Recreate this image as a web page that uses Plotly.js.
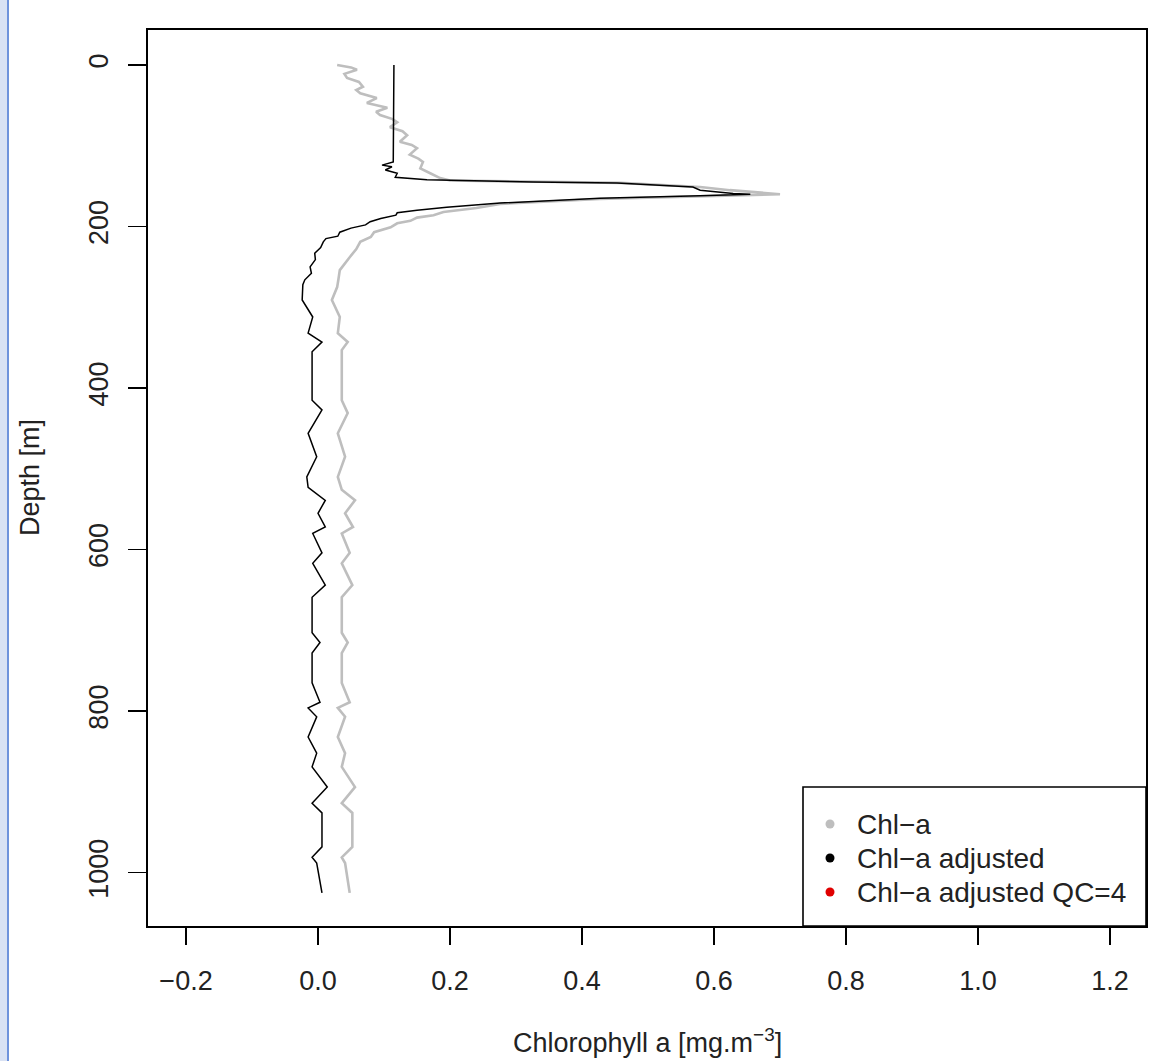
<!DOCTYPE html>
<html>
<head>
<meta charset="utf-8">
<script src="https://cdn.plot.ly/plotly-3.0.1.min.js"></script>
<style>
  html, body { margin: 0; padding: 0; background: #ffffff; }
  #wrap { position: relative; width: 1158px; height: 1061px; }
  #plot { position: absolute; left: 0; top: 0; width: 1158px; height: 1061px; }
  #edge { position: absolute; left: 0; top: 0; width: 7px; height: 1061px; background: #d9e2f4; border-right: 2px solid #6f93dc; z-index: 5; }
</style>
</head>
<body>
<div id="wrap"><div id="plot"></div><div id="edge"></div></div>
<script>
// ---- data ----
const depthRaw = [0, 3, 6, 11, 16, 21, 27, 31, 35, 41, 47, 53, 58, 62, 67, 71, 77, 82, 87, 95, 99, 103, 111, 116, 120, 128, 134, 140,
  143, 146, 151, 155, 160, 162, 166, 172, 177, 182, 186, 189, 193, 196, 201, 207, 213, 219, 228, 238, 246, 254, 265, 275,
  291, 312, 332, 343, 353, 415, 431, 456, 485, 510, 526, 539, 555, 572, 580, 604, 617, 644, 659, 703, 715, 728, 765, 789,
  796, 807, 832, 852, 869, 894, 914, 926, 968, 981, 988, 1025];
const chlRaw = [0.029, 0.050, 0.059, 0.040, 0.044, 0.062, 0.068, 0.058, 0.064, 0.089, 0.074, 0.105, 0.088, 0.094, 0.113, 0.120, 0.109, 0.128, 0.135, 0.124, 0.142, 0.150, 0.139, 0.152, 0.159, 0.155, 0.170, 0.185,
  0.200, 0.458, 0.579, 0.624, 0.700, 0.609, 0.427, 0.276, 0.240, 0.190, 0.175, 0.150, 0.140, 0.120, 0.110, 0.085, 0.080, 0.064, 0.058, 0.048, 0.040, 0.033, 0.031, 0.029,
  0.021, 0.033, 0.030, 0.045, 0.036, 0.036, 0.045, 0.030, 0.041, 0.030, 0.036, 0.056, 0.041, 0.053, 0.036, 0.048, 0.036, 0.052, 0.036, 0.036, 0.045, 0.036, 0.036, 0.048,
  0.030, 0.041, 0.030, 0.041, 0.036, 0.056, 0.036, 0.052, 0.052, 0.036, 0.041, 0.048];

const depthAdj = [0, 120, 124, 126, 130, 134, 139, 140, 142, 145, 146, 151, 155, 159, 160, 162, 165, 171, 176, 180, 183, 186, 190, 194, 198, 202, 207, 212, 215, 219, 226, 233, 241, 250, 258, 266, 272,
  291, 312, 332, 343, 355, 415, 427, 456, 485, 510, 523, 539, 555, 572, 580, 604, 617, 644, 659, 703, 715, 728, 765, 789,
  796, 807, 832, 852, 869, 894, 914, 926, 968, 981, 988, 1025];
const chlAdj = [0.115, 0.114, 0.097, 0.112, 0.102, 0.120, 0.117, 0.139, 0.165, 0.326, 0.453, 0.568, 0.579, 0.629, 0.655, 0.579, 0.427, 0.276, 0.195, 0.150, 0.120, 0.118, 0.095, 0.079, 0.072, 0.050, 0.033, 0.030, 0.012, 0.008, 0.004, -0.005, -0.004, -0.012, -0.010, -0.020, -0.023,
  -0.024, -0.008, -0.015, 0.006, -0.009, -0.009, 0.006, -0.015, -0.002, -0.017, -0.015, 0.011, 0.000, 0.011, -0.008, 0.006, -0.008, 0.011, -0.009, -0.009, 0.003, -0.009, -0.009, 0.003,
  -0.015, -0.002, -0.015, -0.002, -0.009, 0.014, -0.009, 0.006, 0.006, -0.009, -0.002, 0.006];

const xTickVals = [-0.2, 0.0, 0.2, 0.4, 0.6, 0.8, 1.0, 1.2];
const xTickText = ["\u22120.2", "0.0", "0.2", "0.4", "0.6", "0.8", "1.0", "1.2"];
const yTickVals = [0, 200, 400, 600, 800, 1000];
const yTickText = ["0", "200", "400", "600", "800", "1000"];

const legendLabels = ["Chl\u2212a", "Chl\u2212a adjusted", "Chl\u2212a adjusted QC=4"];
const legendColors = ["#bebebe", "#000000", "#e00000"];

// ---- geometry (pixels) ----
const W = 1158, H = 1061;
const L = 148, R = 12, T = 30, B = 135;
const pw = W - L - R, ph = H - T - B;
const px = v => (v - L) / pw;          // pixel x -> paper x
const py = v => (H - B - v) / ph;      // pixel y -> paper y

const font = {family: "Liberation Sans, Arial, sans-serif", size: 27, color: "#222222"};
const legFont = {family: "Liberation Sans, Arial, sans-serif", size: 28, color: "#222222"};

const traces = [
  {x: chlRaw, y: depthRaw, type: "scatter", mode: "lines", line: {color: "#bebebe", width: 2.6}, showlegend: false, hoverinfo: "skip"},
  {x: chlAdj, y: depthAdj, type: "scatter", mode: "lines", line: {color: "#000000", width: 1.5}, showlegend: false, hoverinfo: "skip"}
];

const shapes = [
  {type: "rect", xref: "paper", yref: "paper", x0: px(803), x1: 1, y0: 0, y1: py(787),
   line: {color: "#000000", width: 1.6}, fillcolor: "#ffffff", layer: "above"}
];
const annotations = [];
const rowY = [824, 858, 892];
legendLabels.forEach((lab, i) => {
  shapes.push({type: "circle", xref: "paper", yref: "paper", xsizemode: "pixel", ysizemode: "pixel",
    xanchor: px(830), yanchor: py(rowY[i]), x0: -4.5, x1: 4.5, y0: -4.5, y1: 4.5,
    fillcolor: legendColors[i], line: {width: 0}, layer: "above"});
  annotations.push({xref: "paper", yref: "paper", x: px(855), y: py(rowY[i]), xanchor: "left", yanchor: "middle",
    text: lab, showarrow: false, font: legFont});
});
annotations.push({xref: "paper", yref: "paper", x: 0.5, y: py(1041), xanchor: "center", yanchor: "middle",
  text: "Chlorophyll a [mg.m<sup>\u22123</sup>]", showarrow: false, font: font});
annotations.push({xref: "paper", yref: "paper", x: px(30), y: 0.5, xanchor: "center", yanchor: "middle",
  text: "Depth [m]", textangle: -90, showarrow: false, font: font});

const layout = {
  width: W, height: H,
  margin: {l: L, r: R, t: T, b: B, pad: 0},
  paper_bgcolor: "#ffffff", plot_bgcolor: "#ffffff",
  font: font,
  showlegend: false,
  xaxis: {
    range: [-0.2576, 1.2545], tickmode: "array", tickvals: xTickVals, ticktext: xTickText,
    ticks: "outside", ticklen: 17, tickwidth: 1.5, tickcolor: "#000000",
    showline: true, mirror: true, linecolor: "#000000", linewidth: 1.6,
    showgrid: false, zeroline: false, tickfont: font, ticklabelstandoff: 13
  },
  yaxis: {
    range: [1066, -43.3], tickmode: "array", tickvals: yTickVals, ticktext: yTickText,
    ticks: "outside", ticklen: 18, tickwidth: 1.5, tickcolor: "#000000", tickangle: -90,
    showline: true, mirror: true, linecolor: "#000000", linewidth: 1.6,
    showgrid: false, zeroline: false, tickfont: font, ticklabelstandoff: 10
  },
  shapes: shapes,
  annotations: annotations
};

Plotly.newPlot("plot", traces, layout, {staticPlot: true, displayModeBar: false});
</script>
</body>
</html>
